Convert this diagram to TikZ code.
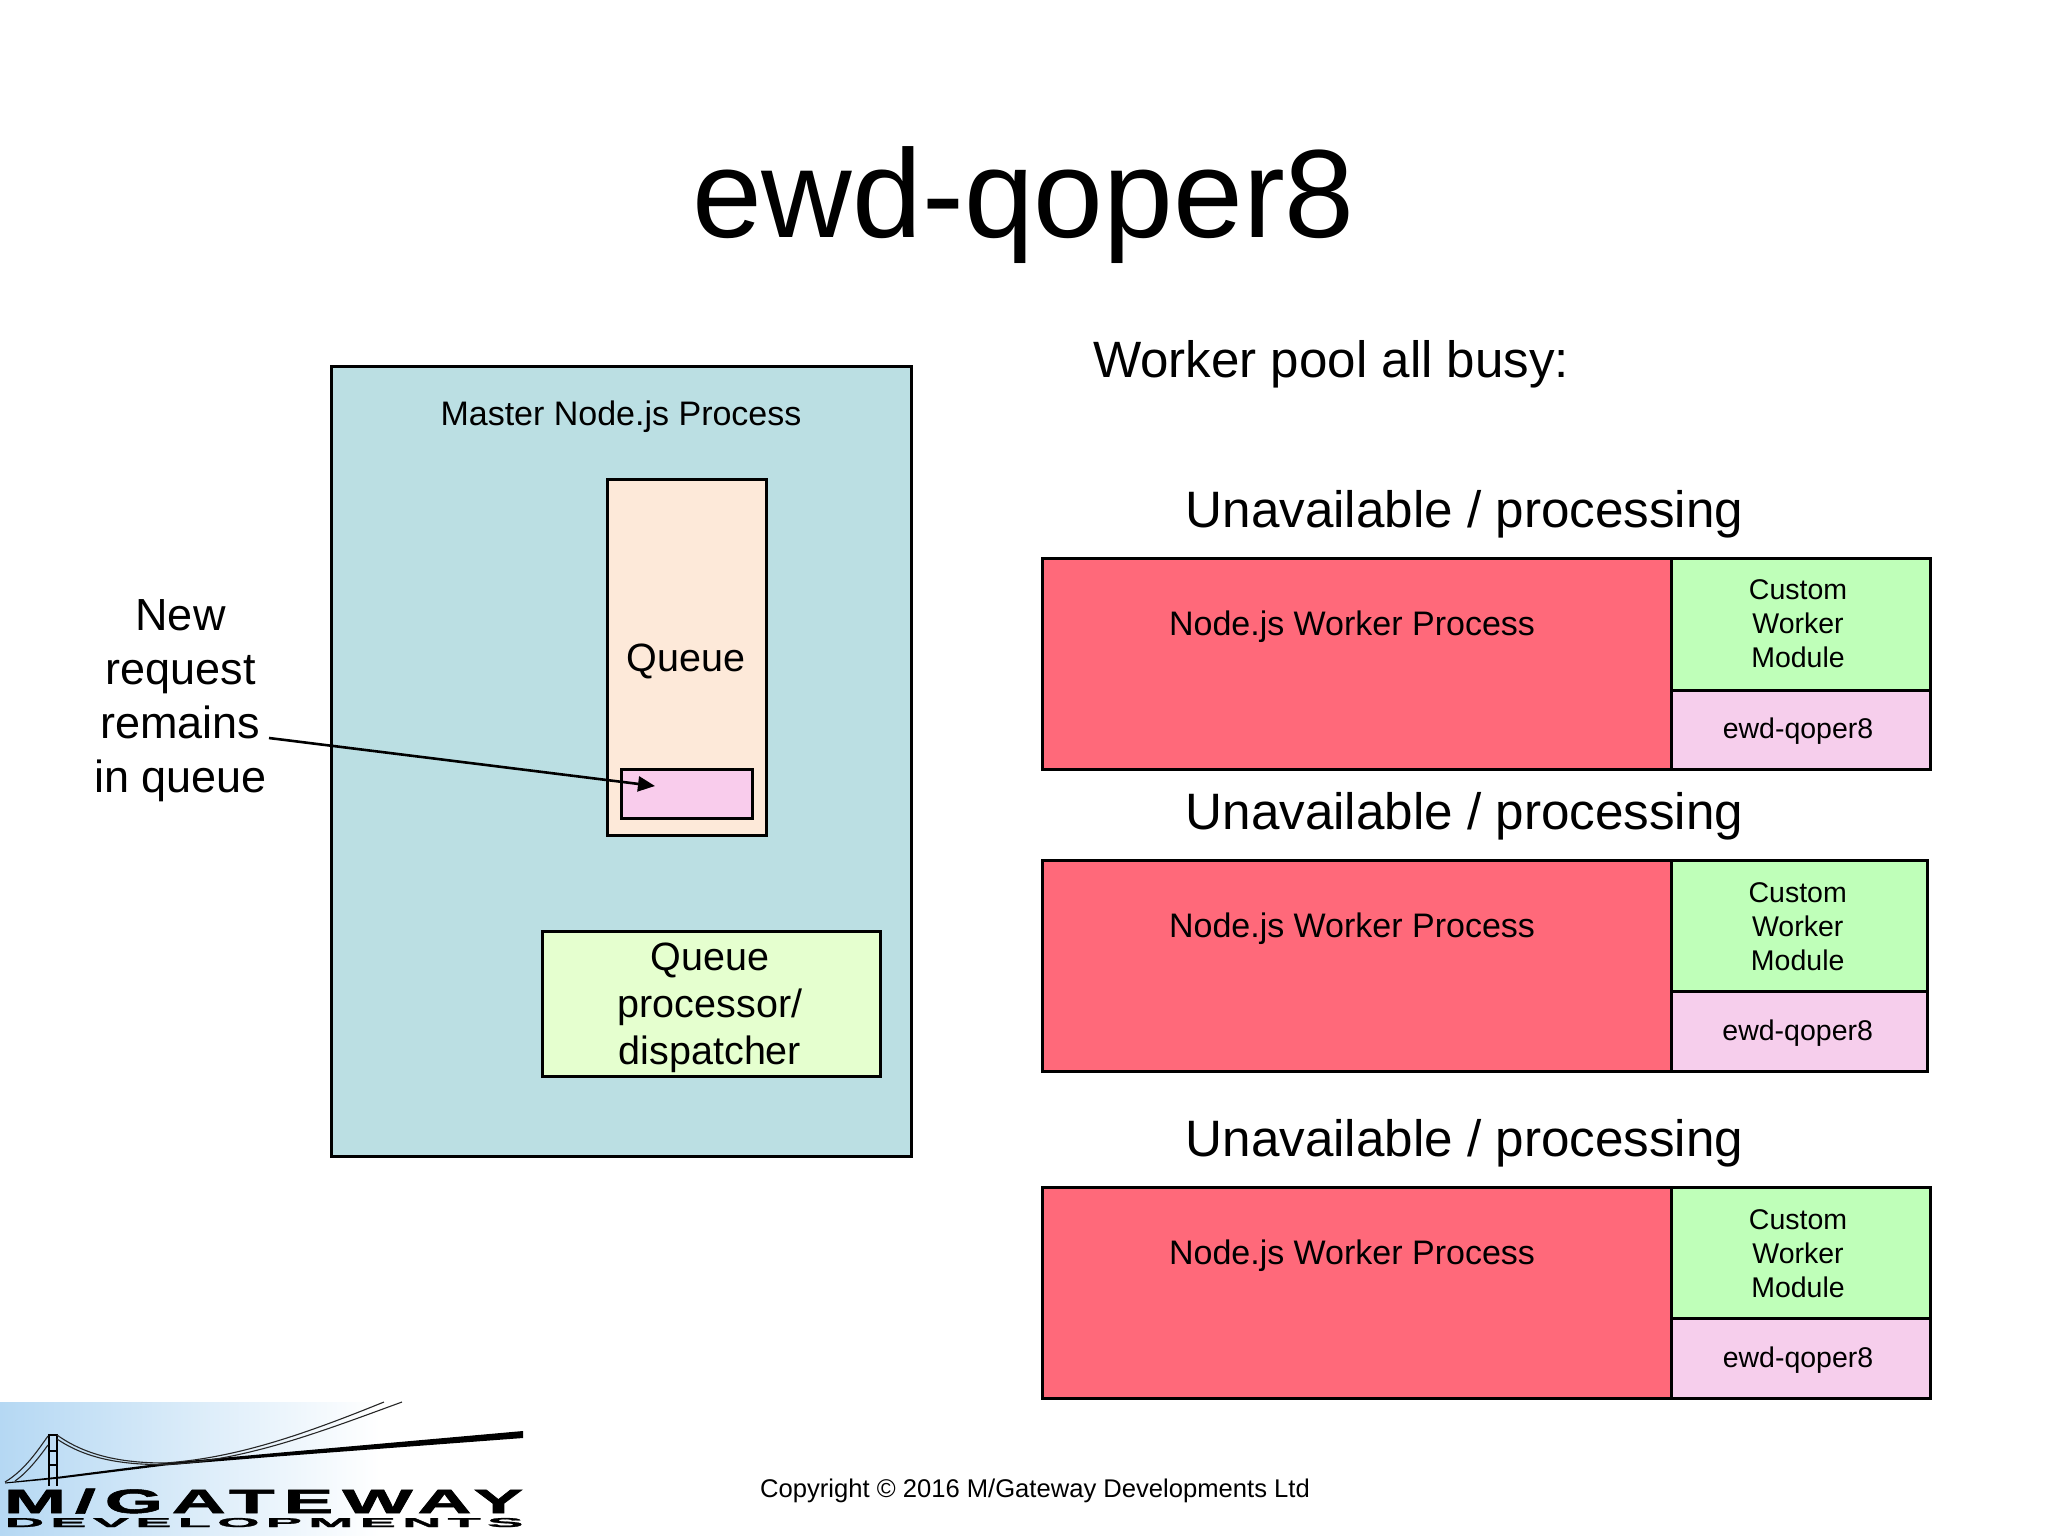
\documentclass[tikz,border=0pt]{standalone}
\usepackage{fontspec}
\usepackage{graphicx}
\setmainfont{Liberation Sans}
\usetikzlibrary{arrows.meta}
\definecolor{masterfill}{HTML}{BBDFE3}
\definecolor{queuefill}{HTML}{FDE9D9}
\definecolor{itemfill}{HTML}{F9CCEC}
\definecolor{dispfill}{HTML}{E5FFCF}
\definecolor{workerfill}{HTML}{FF697A}
\definecolor{modfill}{HTML}{BFFFB9}
\definecolor{qoperfill}{HTML}{F6CEEC}
\definecolor{logoblue}{HTML}{B5D8F3}
\definecolor{logomid}{HTML}{C8E0F6}
\newcommand{\fs}[1]{\fontsize{#1}{#1}\selectfont}
\newfontface\logofont[LetterSpace=12,FakeBold=1.5]{Liberation Sans Bold}
\tikzset{
  box/.style={draw=black,line width=3pt,inner sep=0pt,outer sep=0pt,anchor=north west},
  lbl/.style={inner sep=0pt,outer sep=0pt,anchor=base,text=black},
  multi/.style={inner sep=0pt,outer sep=0pt,anchor=center,align=center,text=black},
  unavail/.style={lbl,font=\fs{51.2}},
  wproc/.style={lbl,font=\fs{34}},
  wmod/.style={multi,font=\fontsize{28.5}{34}\selectfont},
  wq/.style={lbl,font=\fs{28.5}},
  logocable/.style={draw=black!85,line width=1.1pt},
  logotext/.style={inner sep=0pt,outer sep=0pt,anchor=base west,font=\logofont},
}
\begin{document}
\begin{tikzpicture}[x=1pt,y=-1pt]
\useasboundingbox (0,0) rectangle (2048,1536);
\fill[white] (0,0) rectangle (2048,1536);
% title
\node[lbl,font=\fs{125.5}] (title) at (1023.5,237) {ewd-qoper8};
\node[lbl,anchor=base west,font=\fs{51.1}] (busy) at (1093,377.5) {Worker pool all busy:};
% master
\node[box,fill=masterfill,minimum width=580pt,minimum height=790pt] (master) at (331.5,366) {};
\node[lbl,font=\fs{34}] (masterlbl) at (621,425) {Master Node.js Process};
\node[box,fill=queuefill,minimum width=159pt,minimum height=356pt] (queue) at (607,479) {};
\node[lbl,font=\fs{39.5}] (queuelbl) at (686,671) {Queue};
\node[box,fill=itemfill,minimum width=131pt,minimum height=49pt] (item) at (621,769) {};
\node[box,fill=dispfill,minimum width=338pt,minimum height=145pt] (disp) at (542,931) {};
\node[multi,font=\fontsize{39.5}{47}\selectfont] (displbl) at (710,1007.3) {Queue\\processor/\\dispatcher};
% callout
\node[multi,font=\fontsize{45}{54}\selectfont] (newreq) at (180.5,701) {New\\request\\remains\\in queue};
\coordinate (arrowfrom) at (269,738);
\coordinate (arrowto) at (655,786);
\draw[line width=2.6pt,-{Triangle[length=17pt,width=15pt]}] (arrowfrom) -- (arrowto);
% worker row 1
\node[unavail] (u1) at (1464.5,527) {Unavailable / processing};
\node[box,fill=workerfill,minimum width=629pt,minimum height=211pt] (w1) at (1042,558.5) {};
\node[box,fill=modfill,minimum width=259pt,minimum height=131.5pt] (m1) at (1671,558.5) {};
\node[box,fill=qoperfill,minimum width=259pt,minimum height=79.5pt] (q1) at (1671,690) {};
\node[wproc] (w1l) at (1352,635.5) {Node.js Worker Process};
\node[wmod] (m1l) at (1798,623.9) {Custom\\Worker\\Module};
\node[wq] (q1l) at (1798,738.7) {ewd-qoper8};
% worker row 2
\node[unavail] (u2) at (1464.5,829) {Unavailable / processing};
\node[box,fill=workerfill,minimum width=629pt,minimum height=211pt] (w2) at (1042,860) {};
\node[box,fill=modfill,minimum width=256.5pt,minimum height=131pt] (m2) at (1671,860) {};
\node[box,fill=qoperfill,minimum width=256.5pt,minimum height=80pt] (q2) at (1671,991) {};
\node[wproc] (w2l) at (1352,937) {Node.js Worker Process};
\node[wmod] (m2l) at (1797.7,926.5) {Custom\\Worker\\Module};
\node[wq] (q2l) at (1797.7,1040.2) {ewd-qoper8};
% worker row 3
\node[unavail] (u3) at (1464.5,1156) {Unavailable / processing};
\node[box,fill=workerfill,minimum width=629pt,minimum height=211pt] (w3) at (1042,1187) {};
\node[box,fill=modfill,minimum width=259pt,minimum height=131pt] (m3) at (1671,1187) {};
\node[box,fill=qoperfill,minimum width=259pt,minimum height=80pt] (q3) at (1671,1318) {};
\node[wproc] (w3l) at (1352,1264.5) {Node.js Worker Process};
\node[wmod] (m3l) at (1798,1253.7) {Custom\\Worker\\Module};
\node[wq] (q3l) at (1798,1367.7) {ewd-qoper8};
% copyright
\node[lbl,font=\fs{25.6}] (copy) at (1035,1497) {Copyright © 2016 M/Gateway Developments Ltd};
% logo
\shade[left color=logoblue,middle color=logomid,right color=white] (0,1402) rectangle (380,1536);
\fill[black] (5,1482.5) -- (60,1476.5) -- (165,1463) -- (270,1453.5) -- (523,1431) -- (523,1438) -- (270,1457) -- (165,1465.5) -- (60,1478.5) -- (5,1483.5) -- cycle;
\draw[line width=2.4pt] (48.7,1434) -- (48.7,1486) (56.7,1434) -- (56.7,1486)
  (48.7,1451) -- (56.7,1451) (48.7,1465) -- (56.7,1465);
\draw[line width=1.6pt] (48.7,1435) -- (56.7,1435);
\draw[logocable] (5,1482) .. controls (25,1470) and (38,1450) .. (48,1436);
\draw[logocable] (15,1481) .. controls (28,1472) and (40,1456) .. (48,1445);
\draw[logocable] (57,1435) .. controls (85,1455) and (120,1463) .. (165,1463) .. controls (235,1458) and (300,1436) .. (384,1402);
\draw[logocable] (57,1439) .. controls (85,1458) and (120,1465) .. (165,1464.5) .. controls (245,1461) and (320,1432) .. (402,1402);
\node[logotext] (logo1) at (4,1513) {\resizebox{519pt}{24.5pt}{M/GATEWAY}};
\node[logotext] (logo2) at (5,1527) {\resizebox{518pt}{9pt}{DEVELOPMENTS}};
\end{tikzpicture}
\end{document}
